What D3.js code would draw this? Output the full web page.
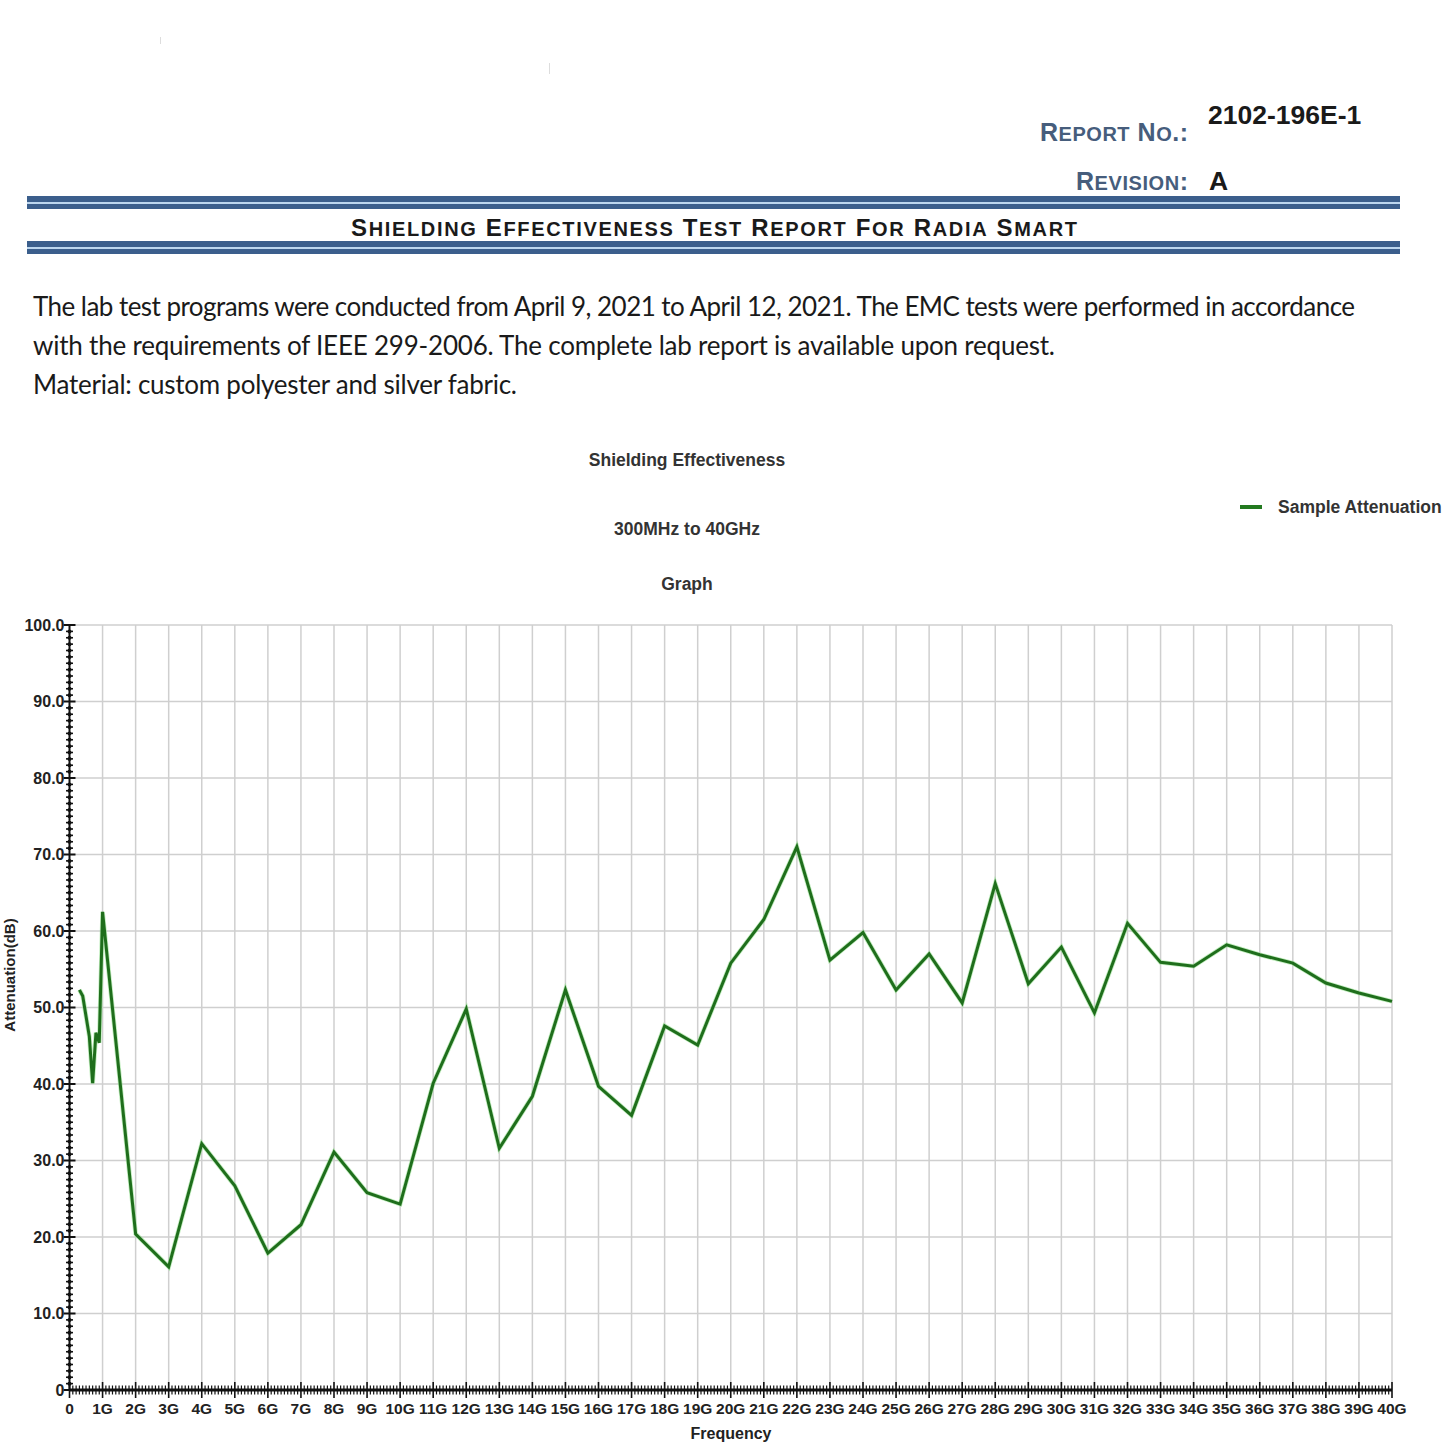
<!DOCTYPE html>
<html>
<head>
<meta charset="utf-8">
<script src="https://cdn.jsdelivr.net/npm/d3@7/dist/d3.min.js"></script>
<style>
  html, body { margin: 0; padding: 0; background: #fff; }
  svg { display: block; }
</style>
</head>
<body>
<svg id="chart" width="1445" height="1445"></svg>
<script>
// ---------- data ----------
const freqGHz = [0.3, 0.4, 0.6, 0.7, 0.8, 0.9, 1,
  2, 3, 4, 5, 6, 7, 8, 9, 10, 11, 12, 13, 14, 15, 16, 17, 18, 19, 20,
  21, 22, 23, 24, 25, 26, 27, 28, 29, 30, 31, 32, 33, 34, 35, 36, 37, 38, 39, 40];
const attenuation = [52.3, 51.5, 46.2, 40.1, 46.7, 45.4, 62.5,
  20.4, 16.1, 32.2, 26.7, 17.9, 21.6, 31.1, 25.8, 24.3, 40.1, 49.8, 31.6, 38.4, 52.3, 39.7, 35.9, 47.6, 45.1, 55.8,
  61.5, 71.0, 56.2, 59.8, 52.3, 57.0, 50.6, 66.2, 53.1, 57.9, 49.3, 61.0, 55.9, 55.4, 58.2, 56.9, 55.8, 53.2, 51.9, 50.8];
const xTickValues = [0,1,2,3,4,5,6,7,8,9,10,11,12,13,14,15,16,17,18,19,20,21,22,23,24,25,26,27,28,29,30,31,32,33,34,35,36,37,38,39,40];
const xTickLabels = ["0","1G","2G","3G","4G","5G","6G","7G","8G","9G","10G","11G","12G","13G","14G","15G","16G","17G","18G","19G","20G",
  "21G","22G","23G","24G","25G","26G","27G","28G","29G","30G","31G","32G","33G","34G","35G","36G","37G","38G","39G","40G"];
const yTickValues = [0,10,20,30,40,50,60,70,80,90,100];
const yTickLabels = ["0","10.0","20.0","30.0","40.0","50.0","60.0","70.0","80.0","90.0","100.0"];
const seriesName = "Sample Attenuation";
const chartTitles = ["Shielding Effectiveness", "300MHz to 40GHz", "Graph"];
const headerLabels = ["Report No.:", "Revision:"];
const headerValues = ["2102-196E-1", "A"];
const reportTitle = "Shielding Effectiveness Test Report For Radia Smart";
const paragraph = [
  "The lab test programs were conducted from April 9, 2021 to April 12, 2021. The EMC tests were performed in accordance",
  "with the requirements of IEEE 299-2006. The complete lab report is available upon request.",
  "Material: custom polyester and silver fabric."
];

// ---------- drawing ----------
const svg = d3.select("#chart");
const F = "Liberation Sans, Arial, Helvetica, sans-serif";

// manual small caps: capitals at big size, lowercase uppercased at small size
function smallCaps(textSel, str, big, small) {
  const parts = [];
  let cur = null;
  for (const ch of str) {
    const isLower = ch !== ch.toUpperCase();
    const kind = isLower ? "s" : "b";
    if (!cur || cur.kind !== kind) { cur = {kind, t: ""}; parts.push(cur); }
    cur.t += isLower ? ch.toUpperCase() : ch;
  }
  parts.forEach(p => textSel.append("tspan").attr("font-size", p.kind === "s" ? small : big).text(p.t));
}

// faint scan artifacts
svg.append("line").attr("x1",160.5).attr("x2",160.5).attr("y1",37).attr("y2",44).attr("stroke","#ddd").attr("stroke-width",1);
svg.append("line").attr("x1",549.5).attr("x2",549.5).attr("y1",63).attr("y2",74).attr("stroke","#ddd").attr("stroke-width",1);

// header
const hdrColor = "#465d7c";
const h1 = svg.append("text").attr("x",1188).attr("y",141).attr("text-anchor","end")
  .attr("font-family",F).attr("font-weight","bold")
  .attr("fill",hdrColor).attr("textLength",148).attr("lengthAdjust","spacing");
smallCaps(h1, headerLabels[0], 25, 20);
const h2 = svg.append("text").attr("x",1188).attr("y",190).attr("text-anchor","end")
  .attr("font-family",F).attr("font-weight","bold")
  .attr("fill",hdrColor).attr("textLength",112).attr("lengthAdjust","spacing");
smallCaps(h2, headerLabels[1], 25, 20);
svg.append("text").attr("x",1208).attr("y",124)
  .attr("font-family",F).attr("font-size",26.5).attr("font-weight","bold").attr("fill","#1a1a1a").text(headerValues[0]);
svg.append("text").attr("x",1209).attr("y",190)
  .attr("font-family",F).attr("font-size",26.5).attr("font-weight","bold").attr("fill","#1a1a1a").text(headerValues[1]);

// blue rules
const ruleDark = "#3b5e8c", ruleLight = "#bcd6ee";
function rule(y) {
  svg.append("rect").attr("x",27).attr("y",y).attr("width",1373).attr("height",13).attr("fill",ruleLight);
  svg.append("rect").attr("x",27).attr("y",y).attr("width",1373).attr("height",6).attr("fill",ruleDark);
  svg.append("rect").attr("x",27).attr("y",y+8).attr("width",1373).attr("height",5).attr("fill",ruleDark);
}
rule(196);
rule(241);

const tt = svg.append("text").attr("x",351).attr("y",236)
  .attr("font-family",F).attr("font-weight","bold")
  .attr("fill","#1a1a1a").attr("textLength",726).attr("lengthAdjust","spacing");
smallCaps(tt, reportTitle, 24, 20);

// paragraph
const paraWidths = [1322, 1022, 484];
paragraph.forEach((t,i) => {
  svg.append("text").attr("x",33).attr("y",316 + i*39)
    .attr("font-family","Lato, 'Open Sans', sans-serif").attr("font-size",26).attr("fill","#1a1a1a")
    .attr("textLength",paraWidths[i]).attr("lengthAdjust","spacing").text(t);
});

// chart titles
[466, 535, 590].forEach((y,i) => {
  svg.append("text").attr("x",687).attr("y",y).attr("text-anchor","middle")
    .attr("font-family",F).attr("font-size",17.5).attr("font-weight","bold").attr("fill","#333").text(chartTitles[i]);
});

// legend
svg.append("line").attr("x1",1240).attr("x2",1262).attr("y1",507).attr("y2",507)
  .attr("stroke","#237a20").attr("stroke-width",4);
svg.append("text").attr("x",1278).attr("y",513)
  .attr("font-family",F).attr("font-size",17.5).attr("font-weight","bold").attr("fill","#333").text(seriesName);

// scales
const x = d3.scaleLinear().domain([0,40]).range([69.5,1392]);
const y = d3.scaleLinear().domain([0,100]).range([1390,625]);

// grid
const grid = svg.append("g");
grid.selectAll("line.v").data(xTickValues.slice(1)).join("line")
  .attr("x1",d=>x(d)).attr("x2",d=>x(d)).attr("y1",y(100)).attr("y2",y(0))
  .attr("stroke","#cfcfcf").attr("stroke-width",1.5);
grid.selectAll("line.h").data(yTickValues.slice(1)).join("line")
  .attr("x1",x(0)).attr("x2",x(40)).attr("y1",d=>y(d)).attr("y2",d=>y(d))
  .attr("stroke","#cfcfcf").attr("stroke-width",1.5);

// y axis
const yMinor = d3.range(0,100,10/12).filter(v => Math.abs(v % 10) > 0.01 && Math.abs(v%10 - 10) > 0.01);
const yAxisG = svg.append("g");
yAxisG.selectAll("line.ym").data(yMinor).join("line")
  .attr("x1",x(0)-3.5).attr("x2",x(0)+3.5).attr("y1",d=>y(d)).attr("y2",d=>y(d))
  .attr("stroke","#111").attr("stroke-width",1.6);
yAxisG.selectAll("circle.ym").data(yMinor).join("circle")
  .attr("cx",x(0)).attr("cy",d=>y(d)).attr("r",2).attr("fill","#111");
yAxisG.append("line").attr("x1",x(0)).attr("x2",x(0)).attr("y1",y(100)).attr("y2",y(0))
  .attr("stroke","#111").attr("stroke-width",2);
yAxisG.selectAll("line.yM").data(yTickValues).join("line")
  .attr("x1",x(0)-6).attr("x2",x(0)+6).attr("y1",d=>y(d)).attr("y2",d=>y(d))
  .attr("stroke","#111").attr("stroke-width",2);
yAxisG.selectAll("text").data(yTickValues).join("text")
  .attr("x",x(0)-5).attr("y",d=>y(d)+5.5).attr("text-anchor","end")
  .attr("font-family",F).attr("font-size",16).attr("font-weight","bold").attr("fill","#222")
  .text((d,i)=>yTickLabels[i]);

// x axis
const xMinor = d3.range(0,40.001,0.1).filter(v => Math.abs(v - Math.round(v)) > 0.01);
const xAxisG = svg.append("g");
xAxisG.selectAll("line.xm").data(xMinor).join("line")
  .attr("x1",d=>x(d)).attr("x2",d=>x(d)).attr("y1",y(0)-4.5).attr("y2",y(0)+4.5)
  .attr("stroke","#111").attr("stroke-width",1.2);
xAxisG.append("line").attr("x1",x(0)).attr("x2",x(40)).attr("y1",y(0)).attr("y2",y(0))
  .attr("stroke","#111").attr("stroke-width",3);
xAxisG.selectAll("line.xM").data(xTickValues).join("line")
  .attr("x1",d=>x(d)).attr("x2",d=>x(d)).attr("y1",y(0)-8).attr("y2",y(0)+8)
  .attr("stroke","#111").attr("stroke-width",1.6);
xAxisG.selectAll("text").data(xTickValues).join("text")
  .attr("x",d=>x(d)).attr("y",1414).attr("text-anchor","middle")
  .attr("font-family",F).attr("font-size",15.5).attr("font-weight","bold").attr("fill","#222")
  .text((d,i)=>xTickLabels[i]);

// axis titles
svg.append("text").attr("x",731).attr("y",1439).attr("text-anchor","middle")
  .attr("font-family",F).attr("font-size",16).attr("font-weight","bold").attr("fill","#222").text("Frequency");
svg.append("text").attr("transform","translate(15,975) rotate(-90)").attr("text-anchor","middle")
  .attr("font-family",F).attr("font-size",15).attr("font-weight","bold").attr("fill","#222").text("Attenuation(dB)");

// series line
const pts = freqGHz.map((f,i)=>[f, attenuation[i]]);
const line = d3.line().x(d=>x(d[0])).y(d=>y(d[1]));
svg.append("path").datum(pts).attr("d",line).attr("fill","none")
  .attr("stroke","#8fe08a").attr("stroke-width",4.6).attr("stroke-opacity",0.55).attr("stroke-linejoin","miter");
svg.append("path").datum(pts).attr("d",line).attr("fill","none")
  .attr("stroke","#1f6e1c").attr("stroke-width",3).attr("stroke-linejoin","miter");
</script>
</body>
</html>
